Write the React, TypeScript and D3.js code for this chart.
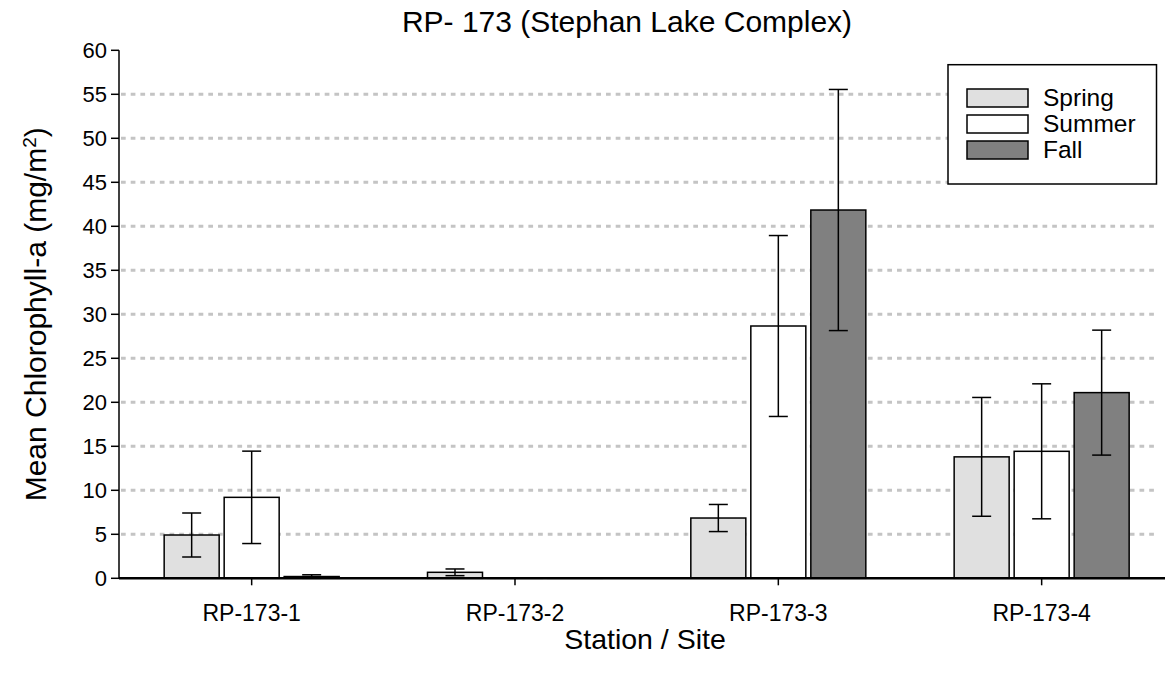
import React from "react";
import * as d3 from "d3";

const stations = ["RP-173-1", "RP-173-2", "RP-173-3", "RP-173-4"];
const seasons = ["Spring", "Summer", "Fall"];
const springMean = [4.92, 0.68, 6.85, 13.8];
const springErr = [2.5, 0.38, 1.54, 6.75];
const summerMean = [9.2, 0.03, 28.67, 14.43];
const summerErr = [5.25, 0, 10.28, 7.67];
const fallMean = [0.2, 0.03, 41.85, 21.1];
const fallErr = [0.2, 0, 13.7, 7.1];
const yTicks = [0, 5, 10, 15, 20, 25, 30, 35, 40, 45, 50, 55, 60];
const gridTicks = [5, 10, 15, 20, 25, 30, 35, 40, 45, 50, 55];
const seasonColors = ["#e0e0e0", "#ffffff", "#808080"];

const means = [springMean, summerMean, fallMean];
const errs = [springErr, summerErr, fallErr];

const FONT = "'Liberation Sans', Arial, sans-serif";

export default function App() {
  const W = 1165;
  const H = 678;
  const x = d3.scaleBand<string>().domain(stations).range([120, 120 + 4 * 263.33]).padding(0);
  const inner = d3
    .scaleBand<string>()
    .domain(seasons)
    .range([-90, 90])
    .paddingInner(1 / 12)
    .paddingOuter(1 / 24);
  const y = d3.scaleLinear().domain([0, 60]).range([578.3, 50.3]);
  const axisX = 119;

  return (
    <svg
      width={W}
      height={H}
      style={{ position: "absolute", left: 0, top: 0, background: "#fff" }}
      fontFamily={FONT}
    >
      <rect x={0} y={0} width={W} height={H} fill="#fff" />
      {gridTicks.map((t) => (
        <line
          key={"g" + t}
          x1={axisX + 2}
          x2={1158}
          y1={y(t)}
          y2={y(t)}
          stroke="#c4c4c4"
          strokeWidth={3}
          strokeDasharray="4.7,5"
        />
      ))}
      {stations.map((s, i) => (
        <g key={s} transform={`translate(${x(s)! + x.bandwidth() / 2},0)`}>
          {seasons.map((se, k) => {
            const v = means[k][i];
            const e = errs[k][i];
            const bx = inner(se)!;
            const bw = inner.bandwidth();
            const cx = bx + bw / 2;
            return (
              <g key={se}>
                <rect
                  x={bx}
                  y={y(v)}
                  width={bw}
                  height={y(0) - y(v)}
                  fill={seasonColors[k]}
                  stroke="#000"
                  strokeWidth={1.5}
                />
                {e > 0 && (
                  <g stroke="#000" strokeWidth={1.5}>
                    <line x1={cx} x2={cx} y1={y(v + e)} y2={y(Math.max(0, v - e))} />
                    <line x1={cx - 9.5} x2={cx + 9.5} y1={y(v + e)} y2={y(v + e)} />
                    <line x1={cx - 9.5} x2={cx + 9.5} y1={y(v - e)} y2={y(v - e)} />
                  </g>
                )}
              </g>
            );
          })}
        </g>
      ))}
      <line x1={axisX} x2={axisX} y1={y(60)} y2={y(0)} stroke="#000" strokeWidth={1.5} />
      {yTicks.map((t) => (
        <g key={"y" + t}>
          <line x1={axisX - 8} x2={axisX} y1={y(t)} y2={y(t)} stroke="#000" strokeWidth={1.5} />
          <text x={axisX - 12} y={y(t)} dy="0.36em" textAnchor="end" fontSize={22} fill="#000">
            {t}
          </text>
        </g>
      ))}
      <line x1={axisX} x2={W} y1={y(0)} y2={y(0)} stroke="#000" strokeWidth={2.5} />
      {stations.map((s) => {
        const cx = x(s)! + x.bandwidth() / 2;
        return (
          <g key={"x" + s}>
            <line x1={cx} x2={cx} y1={y(0)} y2={y(0) + 7} stroke="#000" strokeWidth={1.5} />
            <text x={cx} y={621} textAnchor="middle" fontSize={23} fill="#000">
              {s}
            </text>
          </g>
        );
      })}
      <text x={627} y={32} textAnchor="middle" fontSize={30} fill="#000">
        RP- 173 (Stephan Lake Complex)
      </text>
      <text x={645} y={649} textAnchor="middle" fontSize={28.5} fill="#000">
        Station / Site
      </text>
      <text
        transform={`translate(46,${(y(0) + y(60)) / 2}) rotate(-90)`}
        textAnchor="middle"
        fontSize={30}
        fill="#000"
      >
        Mean Chlorophyll-a (mg/m
        <tspan baselineShift="super" fontSize={19}>
          2
        </tspan>
        )
      </text>
      <g>
        <rect x={948} y={64.7} width={208.5} height={119.3} fill="#fff" stroke="#000" strokeWidth={1.5} />
        {seasons.map((se, k) => (
          <g key={"l" + se} transform={`translate(967,${89 + k * 26})`}>
            <rect x={0} y={0} width={61} height={18} fill={seasonColors[k]} stroke="#000" strokeWidth={1.5} />
            <text x={76} y={17} fontSize={24.5} fill="#000">
              {se}
            </text>
          </g>
        ))}
      </g>
    </svg>
  );
}
